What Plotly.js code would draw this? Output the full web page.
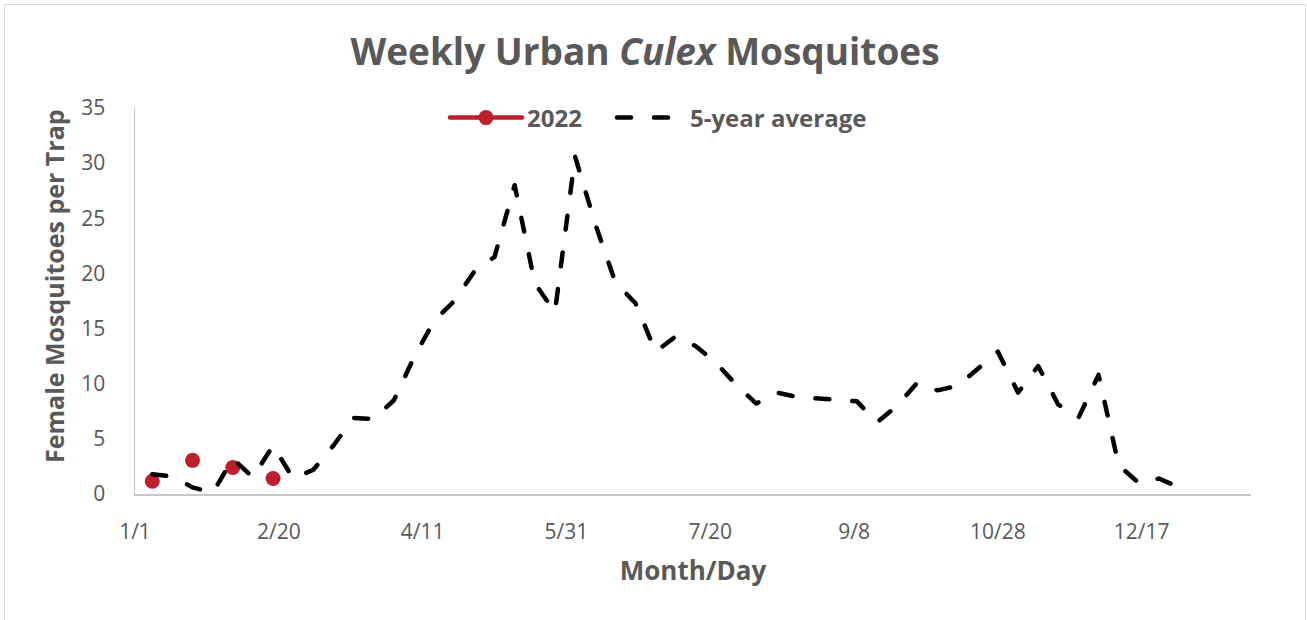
<!DOCTYPE html>
<html>
<head>
<meta charset="utf-8">
<script src="https://cdn.plot.ly/plotly-3.0.1.min.js"></script>
<style>
  html, body { margin: 0; padding: 0; background: #ffffff; }
  #chart { width: 1307px; height: 620px; position: relative; }
  #frame { position: absolute; left: 4px; top: 4px; width: 1302px; height: 640px;
           border: 1px solid #D9D9D9; pointer-events: none; box-sizing: border-box; }
  #chart path.js-line { stroke-linecap: round; stroke-linejoin: round; }
</style>
</head>
<body>
<div id="chart"></div>
<div id="frame"></div>
<script>
// Week dates (2022)
const weeks = [
  '2022-01-07','2022-01-14','2022-01-21','2022-01-28',
  '2022-02-04','2022-02-11','2022-02-18','2022-02-25',
  '2022-03-04','2022-03-11','2022-03-18','2022-03-25',
  '2022-04-01','2022-04-08','2022-04-15','2022-04-22','2022-04-29',
  '2022-05-06','2022-05-13','2022-05-20','2022-05-27',
  '2022-06-03','2022-06-10','2022-06-17','2022-06-24',
  '2022-07-01','2022-07-08','2022-07-15','2022-07-22','2022-07-29',
  '2022-08-05','2022-08-12','2022-08-19','2022-08-26',
  '2022-09-02','2022-09-09','2022-09-16','2022-09-23','2022-09-30',
  '2022-10-07','2022-10-14','2022-10-21','2022-10-28',
  '2022-11-04','2022-11-11','2022-11-18','2022-11-25',
  '2022-12-02','2022-12-09','2022-12-16','2022-12-23','2022-12-30'
];

// 5-year average, female mosquitoes per trap
const avg5yr = [
  1.8, 1.6, 0.6, 0.1,
  3.2, 1.5, 4.4, 1.4,
  2.2, 4.4, 6.9, 6.8,
  8.5, 12.4, 15.7, 17.5, 20.2,
  21.5, 28.0, 19.1, 16.5,
  30.6, 24.5, 19.2, 17.3,
  12.9, 14.3, 13.4, 11.9, 9.9,
  8.2, 9.2, 8.8, 8.7,
  8.5, 8.4, 6.5, 8.0, 10.1,
  9.4, 9.8, 11.3, 12.9,
  9.2, 11.6, 8.1, 6.9,
  10.8, 2.6, 1.0, 1.4, 0.6
];

// 2022 (sampled every other week so far)
const weeks2022 = ['2022-01-07','2022-01-14','2022-01-21','2022-01-28','2022-02-04','2022-02-11','2022-02-18'];
const vals2022 = [1.15, null, 3.05, null, 2.4, null, 1.4];

const xTickStart = '2022-01-01';
const xRangeEnd = '2023-01-24';

const grey = '#595959';
const red = '#BE1E2D';

const traces = [
  {
    x: weeks2022, y: vals2022, name: '2022',
    type: 'scatter', mode: 'lines+markers', connectgaps: false,
    line: { color: red, width: 4.5 },
    marker: { color: red, size: 15 },
    legend: 'legend',
    hoverinfo: 'x+y'
  },
  {
    x: weeks, y: avg5yr, name: '5-year average',
    type: 'scatter', mode: 'lines',
    line: { color: '#000000', width: 4.5, dash: '14px,23px' },
    legend: 'legend2',
    hoverinfo: 'x+y'
  }
];

const legendFont = { size: 24, weight: 700, color: grey };

const layout = {
  width: 1307, height: 620,
  paper_bgcolor: '#ffffff', plot_bgcolor: '#ffffff',
  margin: { l: 135, r: 56, t: 108, b: 126 },
  font: { family: '"Open Sans", "Noto Sans", sans-serif', color: grey },
  title: {
    text: 'Weekly Urban <i>Culex</i> Mosquitoes',
    font: { size: 37, weight: 700, color: grey, family: '"Open Sans", sans-serif' },
    x: 645/1307, xanchor: 'center', xref: 'container',
    y: 1 - 52/620, yanchor: 'middle', yref: 'container'
  },
  showlegend: true,
  legend: {
    orientation: 'h', xref: 'paper', yref: 'paper',
    x: (445 - 135) / 1116, xanchor: 'left', y: (494 - 118) / 386, yanchor: 'middle',
    font: legendFont, itemwidth: 72,
    bgcolor: 'rgba(0,0,0,0)'
  },
  legend2: {
    orientation: 'h', xref: 'paper', yref: 'paper',
    x: (612 - 135) / 1116, xanchor: 'left', y: (494 - 118) / 386, yanchor: 'middle',
    font: legendFont, itemwidth: 68,
    bgcolor: 'rgba(0,0,0,0)'
  },
  xaxis: {
    type: 'date',
    range: [xTickStart, xRangeEnd],
    tick0: xTickStart, dtick: 50 * 86400000,
    tickformat: '%-m/%-d',
    ticks: '', ticklabelstandoff: 18,
    tickfont: { size: 21, color: grey },
    showgrid: false, zeroline: false,
    showline: true, linecolor: '#C8C8C8', linewidth: 2,
    title: { text: 'Month/Day', font: { size: 26, weight: 700, color: grey }, standoff: 18 }
  },
  yaxis: {
    range: [0, 35], dtick: 5, tick0: 0,
    ticks: '', ticklabelstandoff: 24,
    tickfont: { size: 21, color: grey },
    showgrid: false, zeroline: false,
    showline: true, linecolor: '#C8C8C8', linewidth: 1.5
  },
  annotations: [
    {
      text: 'Female Mosquitoes per Trap', textangle: -90,
      xref: 'paper', yref: 'paper',
      x: (54 - 135) / 1116, y: (494 - 286) / 386,
      xanchor: 'center', yanchor: 'middle', showarrow: false,
      font: { size: 25, weight: 700, color: grey }
    }
  ]
};

Plotly.newPlot('chart', traces, layout, { displayModeBar: false, staticPlot: true });
</script>
</body>
</html>
